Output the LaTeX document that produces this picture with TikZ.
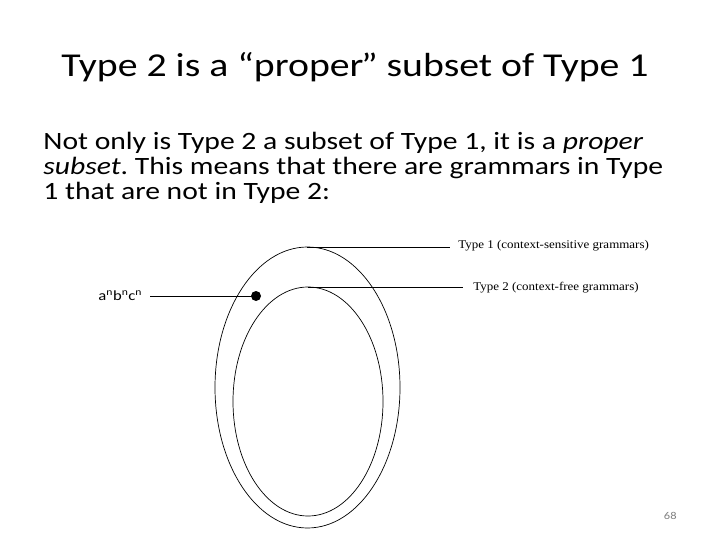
\documentclass[tikz,border=0pt]{standalone}
\usepackage{fontspec}
\setmainfont{Carlito}[FakeStretch=1.19]
\newfontfamily\labelfont{Liberation Serif}[FakeStretch=1.1]
\frenchspacing
\begin{document}
\begin{tikzpicture}[x=1pt,y=-1pt,
  line width=0.8pt,
  difflabel/.style={anchor=west,inner sep=0pt,font=\labelfont\fontsize{11.8}{13}\selectfont},
  bodytext/.style={anchor=base west,inner sep=0pt,font=\fontsize{24.9}{26}\selectfont},
  setellipse/.style={draw,line width=0.7pt}]
\useasboundingbox (0,0) rectangle (720,540);
% title
\node[anchor=base west,inner sep=0pt,font=\fontsize{33.4}{40}\selectfont] (title) at (61,77) {Type 2 is a “proper\kern-2.5pt” subset of Type 1};
% body
\node[bodytext] (l1) at (43,150) {Not only is Type 2 a subset of Type 1, it is a \textit{proper}};
\node[bodytext] (l2) at (43,175) {\textit{subset}. This means that there are grammars in Type};
\node[bodytext] (l3) at (43,200) {1 that are not in Type 2:};
% ellipses
\draw[setellipse] (307.5,387.5) ellipse [x radius=92.5, y radius=140.5];
\draw[setellipse] (308,401.5) ellipse [x radius=75, y radius=114.5];
\coordinate (t1) at (307,247);
\coordinate (t2) at (308,287);
\node[difflabel] (lab1) at (458,246) {Type 1 (context-sensitive grammars)};
\node[difflabel] (lab2) at (473,288) {Type 2 (context-free grammars)};
\draw (t1) -- (450,247) coordinate (e1);
\draw (t2) -- (463,287) coordinate (e2);
% element
\node[circle,fill=black,inner sep=0pt,minimum size=10pt] (dot) at (256,296) {};
\node[anchor=west,inner sep=0pt,font=\fontsize{14}{16}\selectfont] (anbn) at (98,296) {a\textsuperscript{n}b\textsuperscript{n}c\textsuperscript{n}};
\draw (150,296) coordinate (s) -- (dot.center);
% page number
\node[anchor=base east,inner sep=0pt,text=gray,font=\fontsize{10.5}{12}\selectfont] (pg) at (677,519) {68};
\end{tikzpicture}
\end{document}
